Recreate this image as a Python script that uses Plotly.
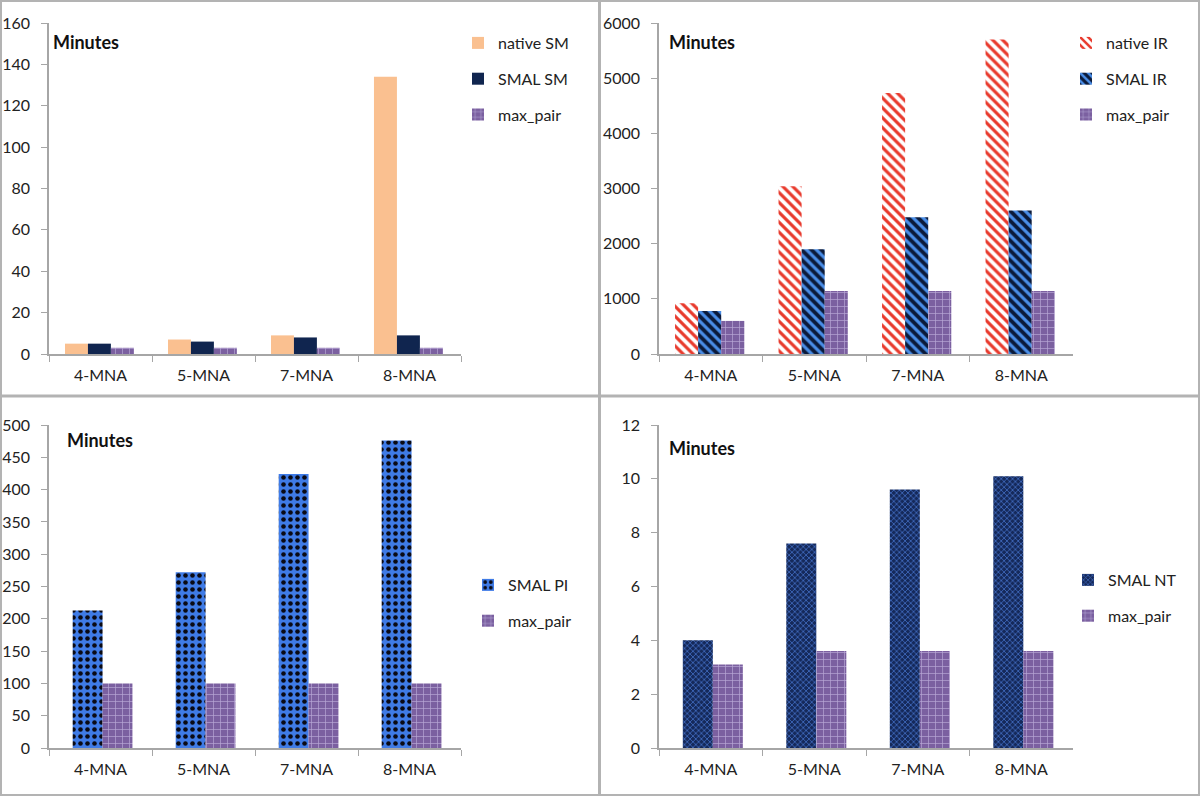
import plotly.graph_objects as go

categories = ["4-MNA", "5-MNA", "7-MNA", "8-MNA"]

# Panel 1 (top-left)
native_sm = [5, 7, 9, 134]
smal_sm = [5, 6, 8, 9]
max_pair_sm = [3, 3, 3, 3]

# Panel 2 (top-right)
native_ir = [920, 3040, 4730, 5700]
smal_ir = [780, 1900, 2480, 2600]
max_pair_ir = [600, 1140, 1140, 1140]

# Panel 3 (bottom-left)
smal_pi = [213, 272, 424, 476]
max_pair_pi = [100, 100, 100, 100]

# Panel 4 (bottom-right)
smal_nt = [4.0, 7.6, 9.6, 10.1]
max_pair_nt = [3.1, 3.6, 3.6, 3.6]

W, H = 1200, 796
FONT = "Lato"

def fx(px):
    return px / W

def fy(py):
    return 1 - py / H

PEACH = "#fac090"
NAVY = "#10254f"
PURPLE_BG = "#7b60a0"
PURPLE_FG = "#b9a9d6"

max_pair_pattern = dict(shape="+", bgcolor=PURPLE_BG, fgcolor=PURPLE_FG, size=7, solidity=0.18, fillmode="replace")

fig = go.Figure()

def bar(x, y, name, xa, ya, leg, offset, width, color=None, pattern=None):
    marker = dict(line=dict(width=0))
    if color:
        marker["color"] = color
    if pattern:
        marker["pattern"] = pattern
        marker["color"] = pattern.get("bgcolor")
    fig.add_trace(go.Bar(
        x=x, y=y, name=name, xaxis=xa, yaxis=ya, legend=leg,
        offset=offset, width=width, marker=marker, legendgroup=name + leg,
    ))

w3 = 0.223
offs3 = [-0.345, -0.122, 0.101]
w2 = 0.29
offs2 = [-0.27, 0.02]

# panel 1
bar(categories, native_sm, "native SM", "x", "y", "legend", offs3[0], w3, color=PEACH)
bar(categories, smal_sm, "SMAL SM", "x", "y", "legend", offs3[1], w3, color=NAVY)
bar(categories, max_pair_sm, "max_pair", "x", "y", "legend", offs3[2], w3, pattern=max_pair_pattern)

# panel 2
bar(categories, native_ir, "native IR", "x2", "y2", "legend2", offs3[0], w3,
    pattern=dict(shape="\\", bgcolor="white", fgcolor="#e8392c", size=7, solidity=0.45, fillmode="replace"))
bar(categories, smal_ir, "SMAL IR", "x2", "y2", "legend2", offs3[1], w3,
    pattern=dict(shape="\\", bgcolor="#0b1a3a", fgcolor="#4a8ee8", size=7, solidity=0.45, fillmode="replace"))
bar(categories, max_pair_ir, "max_pair", "x2", "y2", "legend2", offs3[2], w3, pattern=max_pair_pattern)

# panel 3
bar(categories, smal_pi, "SMAL PI", "x3", "y3", "legend3", offs2[0], w2,
    pattern=dict(shape=".", bgcolor="#3f7be6", fgcolor="#0a0a14", size=7, solidity=0.34, fillmode="replace"))
bar(categories, max_pair_pi, "max_pair", "x3", "y3", "legend3", offs2[1], w2, pattern=max_pair_pattern)

# panel 4
bar(categories, smal_nt, "SMAL NT", "x4", "y4", "legend4", offs2[0], w2,
    pattern=dict(shape="x", bgcolor="#15295a", fgcolor="#3d66b8", size=4, solidity=0.4, fillmode="replace"))
bar(categories, max_pair_nt, "max_pair", "x4", "y4", "legend4", offs2[1], w2, pattern=max_pair_pattern)

AXC = "#a6a6a6"
tickfont = dict(family=FONT, size=16, color="#222")

def xaxis(x0, x1, anchor):
    return dict(domain=[fx(x0), fx(x1)], anchor=anchor, type="category",
                showline=True, linecolor=AXC, linewidth=1.5, ticks="outside",
                tickson="boundaries", ticklen=6, tickcolor=AXC, showgrid=False,
                tickfont=tickfont, ticklabelstandoff=6, fixedrange=True,
                automargin=False)

def yaxis(y0, y1, anchor, rng, dtick):
    return dict(domain=[fy(y1), fy(y0)], anchor=anchor, range=rng, dtick=dtick,
                showline=True, linecolor=AXC, linewidth=1.5, ticks="outside",
                ticklen=6, tickcolor=AXC, showgrid=False, zeroline=False,
                tickfont=tickfont, ticklabelstandoff=8, fixedrange=True,
                automargin=False)

TL = (49, 461)
TR = (659, 1073)
TOP = (23, 354)
BOT = (425, 748)

legfont = dict(family=FONT, size=16, color="#222")

def legend(x, y):
    return dict(x=fx(x), y=fy(y), xanchor="left", yanchor="top", font=legfont,
                bgcolor="rgba(0,0,0,0)", tracegroupgap=12, itemwidth=30,
                traceorder="grouped")

ann_font = dict(family=FONT, size=18, color="#111")
annotations = [
    dict(text="<b>Minutes</b>", x=fx(51), y=fy(42), xref="paper", yref="paper", xanchor="left", yanchor="middle", showarrow=False, font=ann_font),
    dict(text="<b>Minutes</b>", x=fx(667), y=fy(42), xref="paper", yref="paper", xanchor="left", yanchor="middle", showarrow=False, font=ann_font),
    dict(text="<b>Minutes</b>", x=fx(65), y=fy(440), xref="paper", yref="paper", xanchor="left", yanchor="middle", showarrow=False, font=ann_font),
    dict(text="<b>Minutes</b>", x=fx(667), y=fy(448), xref="paper", yref="paper", xanchor="left", yanchor="middle", showarrow=False, font=ann_font),
]

BC = "#b3b3b3"
shapes = [
    dict(type="rect", xref="paper", yref="paper", x0=fx(1), x1=fx(1199), y0=fy(795), y1=fy(1), line=dict(color=BC, width=2)),
    dict(type="line", xref="paper", yref="paper", x0=fx(599.5), x1=fx(599.5), y0=0, y1=1, line=dict(color=BC, width=3)),
    dict(type="line", xref="paper", yref="paper", x0=0, x1=1, y0=fy(396), y1=fy(396), line=dict(color=BC, width=3)),
]

fig.update_layout(
    width=W, height=H, margin=dict(l=0, r=0, t=0, b=0, autoexpand=False),
    paper_bgcolor="white", plot_bgcolor="white",
    barmode="overlay", showlegend=True,
    font=dict(family=FONT),
    xaxis=xaxis(*TL, "y"), yaxis=yaxis(*TOP, "x", [0, 160], 20),
    xaxis2=xaxis(*TR, "y2"), yaxis2=yaxis(*TOP, "x2", [0, 6000], 1000),
    xaxis3=xaxis(*TL, "y3"), yaxis3=yaxis(*BOT, "x3", [0, 500], 50),
    xaxis4=xaxis(*TR, "y4"), yaxis4=yaxis(*BOT, "x4", [0, 12], 2),
    legend=legend(458, 26),
    legend2=legend(1066, 26),
    legend3=legend(468, 568),
    legend4=legend(1068, 563),
    annotations=annotations, shapes=shapes,
)

fig.write_html("out.html", config={"displayModeBar": False},
               post_script="document.body.style.margin='0';document.body.style.overflow='hidden';")
